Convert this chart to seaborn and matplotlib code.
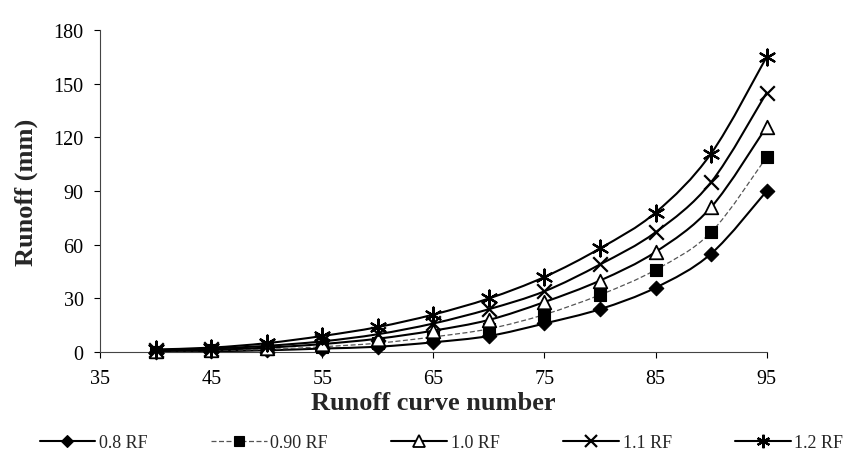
import numpy as np
import matplotlib
matplotlib.use("Agg")
import matplotlib.pyplot as plt
from matplotlib.path import Path
from matplotlib.patches import PathPatch
from matplotlib.lines import Line2D
import seaborn as sns
import pandas as pd

# ---- data ----
curve_number = [40, 45, 50, 55, 60, 65, 70, 75, 80, 85, 90, 95]
rf_08 = [0.1, 0.5, 1.0, 2.0, 3.0, 5.5, 9, 16, 24, 36, 55, 90]
rf_09 = [0.3, 1.0, 1.5, 3.0, 5.0, 8.5, 13, 21, 32, 46, 67, 109]
rf_10 = [0.5, 1.3, 2.5, 4.5, 7.5, 12, 18, 28, 40, 56, 81, 126]
rf_11 = [1.0, 2.0, 3.5, 6.0, 10, 16, 24, 34, 49, 67, 95, 145]
rf_12 = [1.5, 2.5, 5.0, 9.0, 14, 21, 30, 42, 58, 78, 111, 165]
series_labels = ["0.8 RF", "0.90 RF", "1.0 RF", "1.1 RF", "1.2 RF"]
x_ticks = [35, 45, 55, 65, 75, 85, 95]
y_ticks = [0, 30, 60, 90, 120, 150, 180]

series = [rf_08, rf_09, rf_10, rf_11, rf_12]

sns.set_theme(style="white")
plt.rcParams["font.family"] = ["Liberation Serif", "DejaVu Serif"]

fig = plt.figure(figsize=(8.49, 4.64), dpi=100)
ax = fig.add_axes([0.118, 0.239, 0.785, 0.694])

styles = [
    dict(marker="D", s=55, fc="black", ec="black", lw=0.8),
    dict(marker="s", s=75, fc="black", ec="black", lw=0.8),
    dict(marker="^", s=95, fc="white", ec="black", lw=1.3),
    dict(marker="x", s=110, fc="black", ec="black", lw=1.6),
    dict(marker=(6, 2, 0), s=130, fc="black", ec="black", lw=1.6),
]
line_styles = [
    dict(color="black", lw=1.5, ls="-"),
    dict(color="#555555", lw=0.9, ls=(0, (4, 2))),
    dict(color="black", lw=1.5, ls="-"),
    dict(color="black", lw=1.5, ls="-"),
    dict(color="black", lw=1.5, ls="-"),
]


def smooth_path(xs, ys):
    xs = np.asarray(xs, float)
    ys = np.asarray(ys, float)
    pts = np.column_stack([xs, ys])
    verts = [pts[0]]
    codes = [Path.MOVETO]
    n = len(pts)
    for i in range(n - 1):
        p0 = pts[i - 1] if i > 0 else pts[i]
        p1 = pts[i]
        p2 = pts[i + 1]
        p3 = pts[i + 2] if i + 2 < n else pts[i + 1]
        c1 = p1 + (p2 - p0) / 6.0
        c2 = p2 - (p3 - p1) / 6.0
        verts += [c1, c2, p2]
        codes += [Path.CURVE4] * 3
    return Path(verts, codes)


for vals, st, ls in zip(series, styles, line_styles):
    patch = PathPatch(smooth_path(curve_number, vals), facecolor="none",
                      edgecolor=ls["color"], lw=ls["lw"], linestyle=ls["ls"],
                      zorder=2)
    ax.add_patch(patch)
    df = pd.DataFrame({"cn": curve_number, "q": vals})
    sns.scatterplot(data=df, x="cn", y="q", ax=ax, marker=st["marker"],
                    s=st["s"], color=st["fc"], edgecolor=st["ec"],
                    linewidth=st["lw"], zorder=3, clip_on=False)

ax.set_xlim(35, 95)
ax.set_ylim(0, 180)
ax.set_xticks(x_ticks)
ax.set_yticks(y_ticks)
ax.tick_params(axis="both", labelsize=14.5, length=4, width=0.8,
               direction="out", colors="black", pad=8)
ax.tick_params(axis="both", left=True, bottom=True)
for side in ["top", "right"]:
    ax.spines[side].set_visible(False)
for side in ["left", "bottom"]:
    ax.spines[side].set_color("#444444")
    ax.spines[side].set_linewidth(0.8)

ax.set_xlabel("Runoff curve number", fontsize=19, fontweight="bold", labelpad=2)
ax.set_ylabel("Runoff (mm)", fontsize=19, fontweight="bold", labelpad=11)

handles = []
for st, ls, lab in zip(styles, line_styles, series_labels):
    ms = np.sqrt(st["s"]) * 0.85
    handles.append(Line2D([0], [0], color=ls["color"], lw=ls["lw"],
                          ls=ls["ls"], marker=st["marker"], markersize=ms,
                          markerfacecolor=st["fc"], markeredgecolor=st["ec"],
                          markeredgewidth=st["lw"], label=lab))
fig.legend(handles=handles, loc="lower center", bbox_to_anchor=(0.52, -0.01),
           ncol=5, frameon=False, fontsize=13, handlelength=3.1,
           columnspacing=3.5, handletextpad=0.2)

fig.savefig("out.png", dpi=100)
